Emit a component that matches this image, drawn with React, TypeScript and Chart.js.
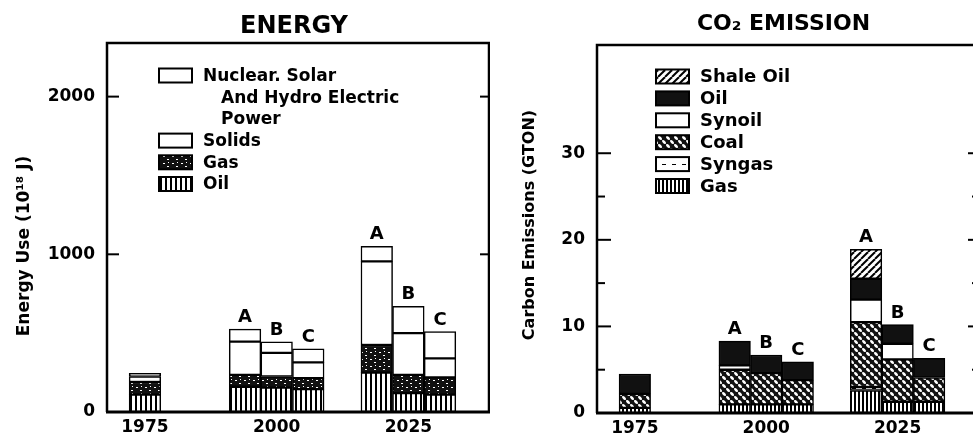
import React, { useEffect, useRef } from 'react';
import { Chart, registerables } from 'chart.js';

Chart.register(...registerables);

const FONT = '"DejaVu Sans", "Liberation Sans", sans-serif';

// ---------- data ----------
const groupYears = [1975, 2000, 2025];
const barGroups = [1975, 2000, 2000, 2000, 2025, 2025, 2025];
const barScenarios = ['', 'A', 'B', 'C', 'A', 'B', 'C'];

// Energy use, 10^18 J (segment sizes, bottom to top)
const energyOil = [110, 160, 155, 145, 250, 120, 110];
const energyGas = [80, 75, 70, 70, 175, 115, 110];
const energySolids = [35, 211, 150, 100, 530, 265, 120];
const energyNuclear = [20, 80, 70, 85, 95, 170, 170];
const energyTicks = [0, 1000, 2000];

// Carbon emissions, GTON (segment sizes, bottom to top)
const co2Gas = [0.6, 1.0, 1.0, 1.0, 2.6, 1.3, 1.3];
const co2Syngas = [0, 0, 0, 0, 0.4, 0, 0];
const co2Coal = [1.6, 4.0, 3.6, 2.8, 7.5, 4.9, 2.8];
const co2Synoil = [0, 0.5, 0, 0, 2.6, 1.8, 0];
const co2Oil = [2.3, 2.8, 2.1, 2.1, 2.4, 2.2, 2.2];
const co2Shale = [0, 0, 0, 0, 3.4, 0, 0];
const co2Ticks = [0, 10, 20, 30];
const co2MinorTicks = [5, 15, 25];

// scenario bars sit side by side around the group year
const SCENARIO_SHIFT: Record<string, number> = { '': 0, A: -1, B: 0, C: 1 };
const BAR_SPAN = 6; // years per bar width
const barX = barGroups.map((g, i) => g + SCENARIO_SHIFT[barScenarios[i]] * BAR_SPAN);
const X_MIN = 1967.8;
const X_MAX = 2040.3;

type Fill = string | CanvasPattern;

function tile(ctx: CanvasRenderingContext2D, w: number, h: number, draw: (g: CanvasRenderingContext2D) => void): CanvasPattern {
  const c = document.createElement('canvas');
  c.width = w;
  c.height = h;
  const g = c.getContext('2d') as CanvasRenderingContext2D;
  draw(g);
  return ctx.createPattern(c, 'repeat') as CanvasPattern;
}

function makePatterns(ctx: CanvasRenderingContext2D) {
  const vlines = tile(ctx, 5, 5, (g) => {
    g.fillStyle = '#fff'; g.fillRect(0, 0, 5, 5);
    g.fillStyle = '#000'; g.fillRect(0, 0, 2, 5);
  });
  const vlinesFine = tile(ctx, 4, 4, (g) => {
    g.fillStyle = '#fff'; g.fillRect(0, 0, 4, 4);
    g.fillStyle = '#000'; g.fillRect(0, 0, 2, 4);
  });
  const speckle = tile(ctx, 9, 7, (g) => {
    g.fillStyle = '#111'; g.fillRect(0, 0, 9, 7);
    g.fillStyle = '#fff';
    g.fillRect(1, 2, 2, 1); g.fillRect(5, 5, 2, 1); g.fillRect(6, 1, 1, 1);
  });
  const coal = tile(ctx, 8, 8, (g) => {
    g.fillStyle = '#111'; g.fillRect(0, 0, 8, 8);
    g.fillStyle = '#fff';
    const dot = (x: number, y: number) => {
      g.beginPath(); g.ellipse(x, y, 2.4, 1.3, Math.PI / 4, 0, Math.PI * 2); g.fill();
    };
    dot(2, 2); dot(6, 6); dot(10, 10); dot(-2, -2); dot(6, -2); dot(-2, 6); dot(10, 2); dot(2, 10);
  });
  const shale = tile(ctx, 7, 7, (g) => {
    g.fillStyle = '#fff'; g.fillRect(0, 0, 7, 7);
    g.strokeStyle = '#000'; g.lineWidth = 2;
    for (const o of [-7, 0, 7]) {
      g.beginPath(); g.moveTo(o, 7); g.lineTo(o + 7, 0); g.stroke();
    }
  });
  const syngas = tile(ctx, 10, 7, (g) => {
    g.fillStyle = '#fff'; g.fillRect(0, 0, 10, 7);
    g.fillStyle = '#000'; g.fillRect(2, 3, 4, 1);
  });
  return { vlines, vlinesFine, speckle, coal, shale, syngas };
}

interface Series { label: string; values: number[]; fill: Fill; legend: string[]; }

interface PanelCfg {
  width: number;
  padRight: number;
  top: number;
  bottom: number;
  yMax: number;
  ticks: number[];
  minorTicks: number[];
  title: string;
  titleFont: number;
  titleY: number;
  yTitle: string;
  yTitleFont: number;
  yTitleX: number;
  yTitleY: number;
  legendBoxX: number;
  legendTextX: number;
  legendIndentX: number;
  legendTop: number;
  legendStep: number;
  legendFont: number;
  majorLen: number;
  minorLen: number;
  rightMajorLen: number;
  rightMinorLen: number;
  series: (p: ReturnType<typeof makePatterns>) => Series[];
}

function buildChart(canvas: HTMLCanvasElement, cfg: PanelCfg) {
  const ctx = canvas.getContext('2d') as CanvasRenderingContext2D;
  const pats = makePatterns(ctx);
  const series = cfg.series(pats);

  const panelPlugin = {
    id: 'panel',
    afterDatasetsDraw(chart: any) {
      const c = chart.ctx as CanvasRenderingContext2D;
      const { left, right, top, bottom } = chart.chartArea;
      const xs = chart.scales.x;
      const ys = chart.scales.y;
      c.save();
      // frame
      c.strokeStyle = '#000';
      c.lineWidth = 2.5;
      c.beginPath();
      c.moveTo(left, bottom); c.lineTo(left, top); c.lineTo(right, top); c.lineTo(right, bottom);
      c.stroke();
      c.lineWidth = 3;
      c.beginPath(); c.moveTo(left - 1, bottom); c.lineTo(right + 1, bottom); c.stroke();
      // inward ticks
      c.lineWidth = 2;
      const tickAt = (v: number, l: number, r: number) => {
        const y = ys.getPixelForValue(v);
        c.beginPath(); c.moveTo(left, y); c.lineTo(left + l, y); c.stroke();
        c.beginPath(); c.moveTo(right, y); c.lineTo(right - r, y); c.stroke();
      };
      cfg.ticks.filter((v) => v > 0).forEach((v) => tickAt(v, cfg.majorLen, cfg.rightMajorLen));
      cfg.minorTicks.forEach((v) => tickAt(v, cfg.minorLen, cfg.rightMinorLen));
      // scenario labels
      c.fillStyle = '#000';
      c.font = `bold 18px ${FONT}`;
      c.textAlign = 'center';
      c.textBaseline = 'alphabetic';
      barScenarios.forEach((s, i) => {
        if (!s) return;
        const total = series.reduce((a, ser) => a + ser.values[i], 0);
        c.fillText(s, xs.getPixelForValue(barX[i]), ys.getPixelForValue(total) - 7);
      });
      // title
      c.font = `bold ${cfg.titleFont}px ${FONT}`;
      c.textBaseline = 'middle';
      c.fillText(cfg.title, (left + right) / 2 - 4, cfg.titleY);
      // y title
      c.save();
      c.translate(cfg.yTitleX, cfg.yTitleY);
      c.rotate(-Math.PI / 2);
      c.font = `bold ${cfg.yTitleFont}px ${FONT}`;
      c.fillText(cfg.yTitle, 0, 0);
      c.restore();
      // legend (top to bottom = top of stack first)
      c.textAlign = 'left';
      c.font = `bold ${cfg.legendFont}px ${FONT}`;
      let row = 0;
      [...series].reverse().forEach((ser) => {
        const cy = cfg.legendTop + row * cfg.legendStep;
        c.fillStyle = ser.fill as any;
        c.fillRect(cfg.legendBoxX, cy - 7, 33, 14);
        c.lineWidth = 2;
        c.strokeStyle = '#000';
        c.strokeRect(cfg.legendBoxX, cy - 7, 33, 14);
        c.fillStyle = '#000';
        ser.legend.forEach((line, k) => {
          const yy = cfg.legendTop + (row + k) * cfg.legendStep;
          c.fillText(line, k === 0 ? cfg.legendTextX : cfg.legendIndentX, yy + 1);
        });
        row += ser.legend.length;
      });
      c.restore();
    },
  };

  return new Chart(ctx, {
    type: 'bar',
    data: {
      datasets: series.map((s) => ({
        label: s.label,
        data: barX.map((x, i) => ({ x, y: s.values[i] ? s.values[i] : null })),
        backgroundColor: s.fill as any,
        borderColor: '#000',
        borderWidth: 1.5,
        borderSkipped: false,
        categoryPercentage: 1,
        barPercentage: 1,
      })),
    } as any,
    options: {
      responsive: false,
      animation: false,
      devicePixelRatio: 1,
      layout: { padding: { top: cfg.top, right: cfg.padRight, left: 0, bottom: 0 } },
      plugins: { legend: { display: false }, tooltip: { enabled: false }, title: { display: false } },
      scales: {
        x: {
          type: 'linear',
          stacked: true,
          offset: false,
          min: X_MIN,
          max: X_MAX,
          grid: { display: false, drawTicks: false, tickLength: 0 },
          border: { display: false },
          afterBuildTicks: (s: any) => { s.ticks = groupYears.map((v) => ({ value: v })); },
          afterFit: (s: any) => { s.height = 438 - cfg.bottom; },
          ticks: {
            callback: (v: any) => String(v),
            color: '#000',
            font: { family: FONT, size: 17, weight: 'bold' },
            padding: 5,
            maxRotation: 0,
            autoSkip: false,
          },
        },
        y: {
          type: 'linear',
          stacked: true,
          min: 0,
          max: cfg.yMax,
          grid: { display: false, drawTicks: false, tickLength: 0 },
          border: { display: false },
          afterBuildTicks: (s: any) => { s.ticks = cfg.ticks.map((v) => ({ value: v })); },
          afterFit: (s: any) => { s.width = 107; },
          ticks: {
            callback: (v: any) => String(v),
            color: '#000',
            font: { family: FONT, size: 17, weight: 'bold' },
            padding: 12,
          },
        },
      },
    } as any,
    plugins: [panelPlugin],
  });
}

const energyCfg: PanelCfg = {
  width: 490, padRight: 1, top: 43, bottom: 412, yMax: 2340,
  ticks: energyTicks, minorTicks: [],
  title: 'ENERGY', titleFont: 24, titleY: 27,
  yTitle: 'Energy Use (10¹⁸ J)', yTitleFont: 17, yTitleX: 25, yTitleY: 246,
  legendBoxX: 159, legendTextX: 203, legendIndentX: 221, legendTop: 75.5, legendStep: 21.7, legendFont: 17,
  majorLen: 12, minorLen: 7, rightMajorLen: 9, rightMinorLen: 6,
  series: (p) => [
    { label: 'Oil', values: energyOil, fill: p.vlines, legend: ['Oil'] },
    { label: 'Gas', values: energyGas, fill: p.speckle, legend: ['Gas'] },
    { label: 'Solids', values: energySolids, fill: '#fff', legend: ['Solids'] },
    { label: 'Nuclear. Solar And Hydro Electric Power', values: energyNuclear, fill: '#fff', legend: ['Nuclear. Solar', 'And Hydro Electric', 'Power'] },
  ],
};

const co2Cfg: PanelCfg = {
  width: 500, padRight: 12, top: 45, bottom: 413, yMax: 42.5,
  ticks: co2Ticks, minorTicks: co2MinorTicks,
  title: 'CO₂ EMISSION', titleFont: 22, titleY: 24,
  yTitle: 'Carbon Emissions (GTON)', yTitleFont: 16, yTitleX: 40, yTitleY: 225,
  legendBoxX: 166, legendTextX: 210, legendIndentX: 210, legendTop: 76.5, legendStep: 21.9, legendFont: 18,
  majorLen: 14, minorLen: 8, rightMajorLen: 10, rightMinorLen: 6,
  series: (p) => [
    { label: 'Gas', values: co2Gas, fill: p.vlinesFine, legend: ['Gas'] },
    { label: 'Syngas', values: co2Syngas, fill: p.syngas, legend: ['Syngas'] },
    { label: 'Coal', values: co2Coal, fill: p.coal, legend: ['Coal'] },
    { label: 'Synoil', values: co2Synoil, fill: '#fff', legend: ['Synoil'] },
    { label: 'Oil', values: co2Oil, fill: '#111', legend: ['Oil'] },
    { label: 'Shale Oil', values: co2Shale, fill: p.shale, legend: ['Shale Oil'] },
  ],
};

function Panel({ cfg, left }: { cfg: PanelCfg; left: number }) {
  const ref = useRef<HTMLCanvasElement>(null);
  useEffect(() => {
    if (!ref.current) return;
    const chart = buildChart(ref.current, cfg);
    return () => chart.destroy();
  }, [cfg]);
  return (
    <canvas
      ref={ref}
      width={cfg.width}
      height={438}
      style={{ position: 'absolute', left, top: 0, width: cfg.width, height: 438 }}
    />
  );
}

export default function App() {
  return (
    <div style={{ position: 'fixed', left: 0, top: 0, width: 973, height: 438, overflow: 'hidden', background: '#fff' }}>
      <Panel cfg={energyCfg} left={0} />
      <Panel cfg={co2Cfg} left={490} />
    </div>
  );
}
